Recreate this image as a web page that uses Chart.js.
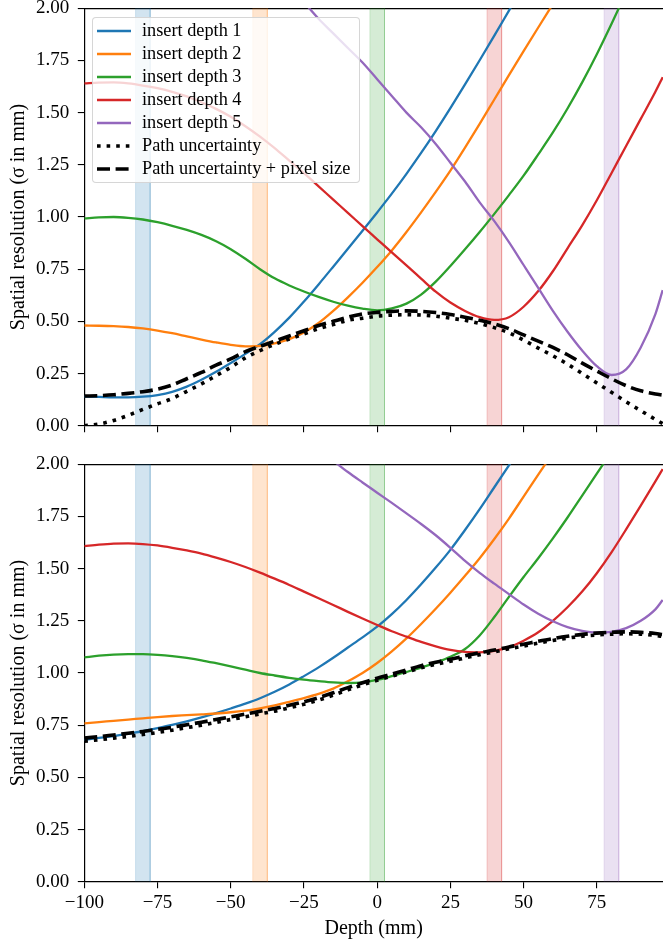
<!DOCTYPE html>
<html>
<head>
<meta charset="utf-8">
<title>Spatial resolution vs depth</title>
<script src="https://cdn.jsdelivr.net/npm/chart.js"></script>
<style>
    body { margin: 0; background: #fff; }
    #wrap { position: relative; width: 663px; height: 943px; overflow: hidden; font-family: "Liberation Serif", serif; }
    .panel { position: absolute; left: 0; width: 663px; }
    #topPanel { top: 0; height: 445px; }
    #bottomPanel { top: 445px; height: 498px; }
    #legend {
        position: absolute; left: 92px; top: 17px; width: 268px; height: 166px; box-sizing: border-box;
        border: 1px solid rgba(204, 204, 204, 0.8); border-radius: 4px; background: rgba(255, 255, 255, 0.8);
    }
    .row { position: absolute; left: 0; height: 20px; font-size: 18.3px; line-height: 20px; color: #000; white-space: nowrap; }
    .row svg { position: absolute; left: 4px; top: 5px; }
    .row span { position: absolute; left: 49px; top: -1px; }
</style>
</head>
<body>
<div id="wrap">
    <div class="panel" id="topPanel"><canvas id="topChart"></canvas></div>
    <div class="panel" id="bottomPanel"><canvas id="bottomChart"></canvas></div>
    <div id="legend"></div>
</div>
<script>
    // depth grid (mm)
    const depth = [-100, -95, -90, -85, -80, -75, -70, -65, -60, -55, -50, -45, -40, -35, -30, -25, -20, -15, -10, -5,
        0, 5, 10, 15, 20, 25, 30, 35, 40, 45, 50, 55, 60, 65, 70, 75, 80, 85, 90, 95, 97.5];

    // top panel
    const topInsert1 = [0.14, 0.138, 0.136, 0.136, 0.139, 0.147, 0.162, 0.187, 0.22, 0.258, 0.3, 0.344, 0.391, 0.45, 0.518, 0.595, 0.677, 0.762, 0.848, 0.934,
        1.022, 1.112, 1.207, 1.307, 1.412, 1.522, 1.635, 1.751, 1.869, 1.989, 2.109, null, null, null, null, null, null, null, null, null, null];
    const topInsert2 = [0.48, 0.479, 0.477, 0.473, 0.466, 0.456, 0.443, 0.428, 0.413, 0.399, 0.387, 0.38, 0.382, 0.395, 0.415, 0.447, 0.492, 0.55, 0.615, 0.685,
        0.76, 0.84, 0.928, 1.022, 1.12, 1.222, 1.332, 1.446, 1.563, 1.68, 1.795, 1.908, 2.02, null, null, null, null, null, null, null, null];
    const topInsert3 = [0.993, 0.998, 1.0, 0.996, 0.988, 0.975, 0.958, 0.938, 0.914, 0.884, 0.846, 0.8, 0.75, 0.706, 0.672, 0.643, 0.617, 0.594, 0.575, 0.561,
        0.553, 0.562, 0.585, 0.628, 0.69, 0.765, 0.845, 0.928, 1.015, 1.105, 1.198, 1.3, 1.405, 1.52, 1.645, 1.78, 1.925, 2.075, null, null, null];
    const topInsert4 = [1.64, 1.644, 1.645, 1.64, 1.63, 1.617, 1.6, 1.578, 1.55, 1.518, 1.48, 1.435, 1.385, 1.33, 1.27, 1.21, 1.147, 1.083, 1.02, 0.956,
        0.893, 0.83, 0.768, 0.705, 0.642, 0.59, 0.55, 0.52, 0.507, 0.52, 0.57, 0.645, 0.74, 0.85, 0.96, 1.08, 1.21, 1.34, 1.47, 1.6, 1.67];
    const topInsert5 = [null, null, null, null, null, null, null, null, null, null, null, null, null, null, 2.11, 2.03, 1.95, 1.88, 1.81, 1.74,
        1.66, 1.58, 1.5, 1.43, 1.35, 1.26, 1.17, 1.07, 0.98, 0.88, 0.77, 0.66, 0.55, 0.45, 0.36, 0.285, 0.243, 0.27, 0.375, 0.535, 0.65];
    const topPath = [0.0, 0.008, 0.025, 0.05, 0.078, 0.105, 0.13, 0.165, 0.2, 0.24, 0.28, 0.325, 0.36, 0.39, 0.415, 0.44, 0.465, 0.485, 0.505, 0.515,
        0.525, 0.53, 0.532, 0.53, 0.525, 0.515, 0.505, 0.49, 0.47, 0.445, 0.41, 0.372, 0.335, 0.295, 0.25, 0.205, 0.16, 0.115, 0.072, 0.03, 0.01];
    const topPathPixel = [0.142, 0.144, 0.148, 0.155, 0.163, 0.175, 0.195, 0.225, 0.255, 0.29, 0.32, 0.355, 0.38, 0.405, 0.43, 0.455, 0.48, 0.5, 0.52, 0.535,
        0.543, 0.548, 0.55, 0.548, 0.542, 0.533, 0.52, 0.505, 0.488, 0.465, 0.435, 0.405, 0.375, 0.34, 0.3, 0.262, 0.225, 0.192, 0.167, 0.152, 0.147];

    // bottom panel
    const botInsert1 = [0.68, 0.689, 0.698, 0.709, 0.722, 0.736, 0.751, 0.768, 0.787, 0.808, 0.83, 0.853, 0.879, 0.91, 0.945, 0.985, 1.027, 1.073, 1.122, 1.171,
        1.222, 1.282, 1.35, 1.425, 1.505, 1.59, 1.685, 1.785, 1.89, 1.995, 2.1, null, null, null, null, null, null, null, null, null, null];
    const botInsert2 = [0.759, 0.765, 0.771, 0.777, 0.783, 0.789, 0.794, 0.798, 0.802, 0.806, 0.812, 0.82, 0.831, 0.845, 0.862, 0.88, 0.9, 0.925, 0.96, 1.0,
        1.048, 1.104, 1.166, 1.235, 1.308, 1.385, 1.466, 1.55, 1.642, 1.74, 1.845, 1.95, 2.055, null, null, null, null, null, null, null, null];
    const botInsert3 = [1.075, 1.083, 1.088, 1.09, 1.09, 1.087, 1.081, 1.072, 1.061, 1.047, 1.032, 1.016, 1.0, 0.988, 0.977, 0.968, 0.961, 0.955, 0.952, 0.955,
        0.967, 0.985, 1.005, 1.026, 1.05, 1.078, 1.115, 1.18, 1.268, 1.365, 1.46, 1.55, 1.645, 1.745, 1.85, 1.955, 2.06, null, null, null, null];
    const botInsert4 = [1.608, 1.615, 1.62, 1.621, 1.618, 1.611, 1.6, 1.587, 1.572, 1.553, 1.532, 1.508, 1.481, 1.452, 1.422, 1.39, 1.358, 1.326, 1.293, 1.261,
        1.23, 1.2, 1.174, 1.149, 1.128, 1.111, 1.101, 1.099, 1.106, 1.124, 1.155, 1.195, 1.25, 1.315, 1.39, 1.478, 1.578, 1.688, 1.802, 1.918, 1.977];
    const botInsert5 = [null, null, null, null, null, null, null, null, null, null, null, null, null, null, null, null, 2.07, 2.017, 1.963, 1.913,
        1.864, 1.815, 1.765, 1.714, 1.66, 1.6, 1.537, 1.48, 1.428, 1.378, 1.328, 1.284, 1.248, 1.22, 1.202, 1.194, 1.197, 1.215, 1.25, 1.305, 1.35];
    const botPath = [0.673, 0.68, 0.688, 0.696, 0.705, 0.715, 0.726, 0.738, 0.75, 0.763, 0.777, 0.79, 0.804, 0.817, 0.833, 0.85, 0.87, 0.894, 0.919, 0.943,
        0.965, 0.985, 1.005, 1.025, 1.042, 1.056, 1.072, 1.088, 1.101, 1.116, 1.129, 1.143, 1.156, 1.167, 1.176, 1.182, 1.186, 1.188, 1.186, 1.18, 1.175];
    const botPathPixel = [0.688, 0.695, 0.703, 0.711, 0.72, 0.73, 0.74, 0.752, 0.764, 0.777, 0.79, 0.803, 0.817, 0.83, 0.845, 0.862, 0.882, 0.905, 0.93, 0.953,
        0.975, 0.995, 1.015, 1.035, 1.052, 1.066, 1.082, 1.097, 1.11, 1.125, 1.138, 1.152, 1.165, 1.176, 1.185, 1.191, 1.195, 1.197, 1.195, 1.189, 1.184];

    // insert positions (shaded bands)
    const bandCenters = [-80, -40, 0, 40, 80];
    const bandHalfWidth = 2.5;

    const insertLabels = ["insert depth 1", "insert depth 2", "insert depth 3", "insert depth 4", "insert depth 5"];
    const insertColors = ["#1f77b4", "#ff7f0e", "#2ca02c", "#d62728", "#9467bd"];
    const bandColors = ["rgba(31,119,180,0.2)", "rgba(255,127,14,0.2)", "rgba(44,160,44,0.2)", "rgba(214,39,40,0.2)", "rgba(148,103,189,0.2)"];
    const pathLabels = ["Path uncertainty", "Path uncertainty + pixel size"];
    const dotted = [3.6, 6];
    const dashed = [13, 5.6];

    const FONT = '"Liberation Serif", serif';
    Chart.defaults.font.family = FONT;
    Chart.defaults.color = "#000";

    function toPoints(values) {
        return depth.map((x, i) => ({ x: x, y: values[i] }));
    }

    function zeroPad(scale) {
        scale.paddingTop = 0; scale.paddingBottom = 0;
        scale.paddingLeft = 0; scale.paddingRight = 0;
    }

    function buildDatasets(curves, path, pathPixel) {
        const sets = [];
        sets.push({ data: toPoints(pathPixel), borderColor: "#000", borderWidth: 3.6, borderDash: dashed, order: 0 });
        sets.push({ data: toPoints(path), borderColor: "#000", borderWidth: 3.6, borderDash: dotted, order: 1 });
        curves.forEach((vals, i) => {
            sets.push({ data: toPoints(vals), borderColor: insertColors[i], borderWidth: 2.3, order: 6 - i });
        });
        bandCenters.forEach((c, i) => {
            sets.push({
                data: [{ x: c - bandHalfWidth, y: 0 }, { x: c - bandHalfWidth, y: 2 }, { x: c + bandHalfWidth, y: 2 }, { x: c + bandHalfWidth, y: 0 }],
                borderColor: bandColors[i], backgroundColor: bandColors[i], borderWidth: 1,
                fill: "origin", tension: 0, cubicInterpolationMode: "default", order: 20
            });
        });
        return sets;
    }

    function buildConfig(sets, bottom) {
        return {
            type: "line",
            data: { datasets: sets },
            options: {
                responsive: true,
                maintainAspectRatio: false,
                animation: false,
                clip: 0,
                layout: { padding: { top: bottom ? 19.3 : 8.3, left: 0, right: 0, bottom: 0 } },
                elements: {
                    point: { radius: 0 },
                    line: { cubicInterpolationMode: "monotone", fill: false }
                },
                plugins: { legend: { display: false }, tooltip: { enabled: false } },
                scales: {
                    x: {
                        type: "linear", position: "bottom", min: -100, max: 97.6,
                        ticks: {
                            display: bottom, stepSize: 25, includeBounds: false, autoSkip: false, maxRotation: 0,
                            padding: 3, font: { size: 19 },
                            callback: (v) => String(v).replace("-", "\u2212")
                        },
                        grid: { drawOnChartArea: false, drawTicks: true, tickLength: 6.5, color: "#000", lineWidth: 1.1 },
                        border: { display: true, color: "#000", width: 1.2 },
                        title: { display: bottom, text: "Depth (mm)", font: { size: 20 }, padding: { top: 0, bottom: 2 } },
                        afterFit: (s) => { s.height = bottom ? 61.3 : 19.3; zeroPad(s); }
                    },
                    xTop: {
                        type: "linear", position: "top", min: -100, max: 97.6,
                        ticks: { display: false },
                        grid: { display: false, drawTicks: false },
                        border: { display: true, color: "#000", width: 1.2 },
                        afterFit: (s) => { s.height = 0; zeroPad(s); }
                    },
                    y: {
                        type: "linear", position: "left", min: 0, max: 2,
                        ticks: { stepSize: 0.25, padding: 8.5, font: { size: 19 }, callback: (v) => v.toFixed(2) },
                        grid: { drawOnChartArea: false, drawTicks: true, tickLength: 6.5, color: "#000", lineWidth: 1.1 },
                        border: { display: true, color: "#000", width: 1.2 },
                        title: { display: true, text: "Spatial resolution (\u03c3 in mm)", font: { size: 20 }, padding: { top: 6.5, bottom: 0 } },
                        afterFit: (s) => { s.width = 84.3; zeroPad(s); }
                    }
                }
            }
        };
    }

    new Chart(document.getElementById("topChart").getContext("2d"), buildConfig(
        buildDatasets([topInsert1, topInsert2, topInsert3, topInsert4, topInsert5], topPath, topPathPixel), false));

    new Chart(document.getElementById("bottomChart").getContext("2d"), buildConfig(
        buildDatasets([botInsert1, botInsert2, botInsert3, botInsert4, botInsert5], botPath, botPathPixel), true));

    // legend box (top panel, upper left)
    const legendRows = insertLabels.map((t, i) => ({ text: t, color: insertColors[i], width: 2.3, dash: null }))
        .concat([
            { text: pathLabels[0], color: "#000", width: 3.6, dash: dotted },
            { text: pathLabels[1], color: "#000", width: 3.6, dash: dashed }
        ]);
    const legend = document.getElementById("legend");
    legendRows.forEach((row, i) => {
        const div = document.createElement("div");
        div.className = "row";
        div.style.top = (3.3 + i * 22.95) + "px";
        const dash = row.dash ? ' stroke-dasharray="' + row.dash.join(" ") + '"' : "";
        div.innerHTML = '<svg width="36" height="10"><line x1="0" y1="5" x2="34" y2="5" stroke="' + row.color +
            '" stroke-width="' + row.width + '"' + dash + '/></svg><span>' + row.text + '</span>';
        legend.appendChild(div);
    });
</script>
</body>
</html>
